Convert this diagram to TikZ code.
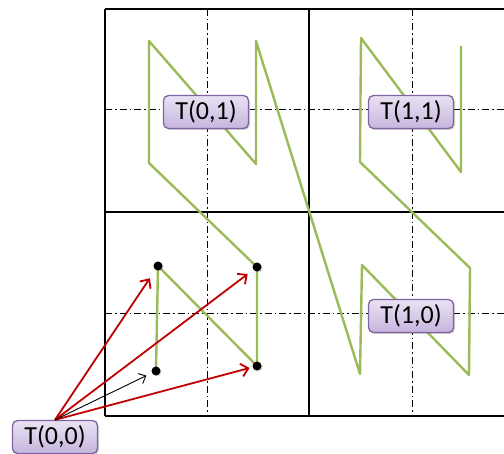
\documentclass[tikz,border=0pt]{standalone}
\usepackage{fontspec}
\setmainfont{Carlito}
\usetikzlibrary{arrows.meta,shadows}
\definecolor{pgreen}{HTML}{9BBB59}
\definecolor{pborder}{HTML}{8064A2}
\definecolor{ptop}{HTML}{EAE2F3}
\definecolor{pbot}{HTML}{C6B5DD}
\definecolor{pred}{HTML}{C00000}
\tikzset{
  lbl/.style={draw=pborder, line width=1.3pt, rounded corners=5pt,
    top color=ptop, bottom color=pbot, minimum width=85pt, minimum height=33pt,
    inner sep=0pt, font=\fontsize{26}{30}\selectfont,
    drop shadow={opacity=0.35, shadow xshift=1.5pt, shadow yshift=-1.5pt}},
  gridl/.style={line width=1.5pt},
  dashdot/.style={line width=1pt, dash pattern=on 7pt off 3pt on 1.5pt off 3pt},
  zcurve/.style={pgreen, line width=2.4pt, line join=round},
  dot/.style={circle, fill=black, minimum size=9pt, inner sep=0pt,
    drop shadow={opacity=0.3, shadow xshift=1pt, shadow yshift=-1pt}},
  redarr/.style={pred, line width=1.8pt, -{Straight Barb[length=7pt,width=13pt]}},
  blkarr/.style={black, line width=0.9pt, -{Straight Barb[length=6pt,width=11pt]}}
}
\begin{document}
\begin{tikzpicture}[x=1pt,y=-1pt]
\useasboundingbox (0,0) rectangle (504,454);
% dash-dot quarter lines
\draw[dashdot] (207,9) -- (207,416);
\draw[dashdot] (412,9) -- (412,416);
\draw[dashdot] (105,110) -- (504,110);
\draw[dashdot] (105,314) -- (504,314);
% grid
\draw[gridl] (105,9) -- (504,9);
\draw[gridl] (105,212) -- (504,212);
\draw[gridl] (105,416) -- (504,416);
\draw[gridl] (105,9) -- (105,416);
\draw[gridl] (309,9) -- (309,416);
% Z-order curve
\draw[zcurve] (156,371) -- (158,266) -- (257,366) -- (257,267)
  -- (149,163) -- (149,41) -- (256,164) -- (256,41)
  -- (360,374) -- (362,265) -- (469,375) -- (470,268)
  -- (360,162) -- (361,38) -- (461,172) -- (461,46);
% labels
\node[lbl] (t01) at (206,112) {T(0,1)};
\node[lbl] (t11) at (411,112) {T(1,1)};
\node[lbl] (t10) at (411,316) {T(1,0)};
\node[lbl] (t00) at (55,437) {T(0,0)};
% dots
\node[dot] (d1) at (156,371) {};
\node[dot] (d2) at (158,266) {};
\node[dot] (d3) at (257,366) {};
\node[dot] (d4) at (257,267) {};
% arrows
\draw[redarr, shorten >=10pt] (t00.north) -- (d2);
\draw[redarr, shorten >=7pt] (t00.north) -- (d4);
\draw[redarr, shorten >=3pt] (t00.north) -- (d3);
\draw[blkarr, shorten >=6pt] (t00.north) -- (d1);
\end{tikzpicture}
\end{document}
